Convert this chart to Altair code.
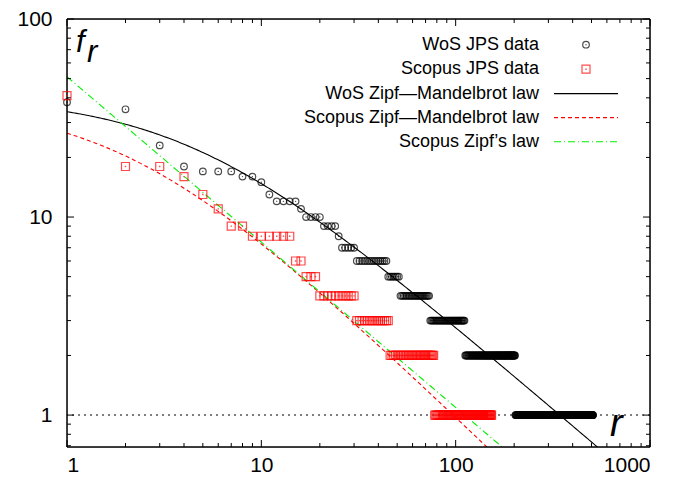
import altair as alt
import numpy as np
import pandas as pd

# ---- data (rank-frequency, run lengths) ----
wos_freq = [38, 35, 23, 18, 17, 16, 15, 13, 12, 11, 10, 9, 8, 7, 6, 5, 4, 3, 2, 1]
wos_count = [1, 1, 1, 1, 3, 2, 1, 1, 4, 1, 4, 4, 1, 5, 14, 7, 22, 38, 91, 307]

scopus_freq = [41, 18, 16, 13, 11, 9, 8, 6, 5, 4, 3, 2, 1]
scopus_count = [1, 2, 1, 1, 1, 2, 6, 2, 3, 11, 15, 32, 76]

# fitted law parameters
wos_zm = {"C": 138.8, "b": 4.3, "a": 0.843}
scopus_zm = {"C": 77.3, "b": 2.1, "a": 0.946}
scopus_zipf = {"C": 51.1, "a": 0.835}

legend_labels = ["WoS JPS data", "Scopus JPS data", "WoS Zipf\u2014Mandelbrot law",
                 "Scopus Zipf\u2014Mandelbrot law", "Scopus Zipf\u2019s law"]

x_major = [1, 10, 100, 1000]
y_major = [1, 10, 100]

# ---- build tables ----
def expand(freq, count):
    f = np.repeat(freq, count)
    r = np.arange(1, len(f) + 1)
    return pd.DataFrame({"r": r, "f": f})

wos = expand(wos_freq, wos_count)
sco = expand(scopus_freq, scopus_count)

rr = np.logspace(0, 3, 300)
curve_wos = pd.DataFrame({"r": rr, "f": wos_zm["C"] / (rr + wos_zm["b"]) ** wos_zm["a"]})
curve_szm = pd.DataFrame({"r": rr, "f": scopus_zm["C"] / (rr + scopus_zm["b"]) ** scopus_zm["a"]})
curve_szipf = pd.DataFrame({"r": rr, "f": scopus_zipf["C"] * rr ** (-scopus_zipf["a"])})

W, H = 583, 428
FONT = "Liberation Sans"
xs = alt.Scale(type="log", domain=[1, 1000], nice=False)
ys = alt.Scale(type="log", domain=[0.69, 100], nice=False)

xaxis = alt.Axis(values=x_major, format="d", ticks=False, domain=False, grid=False,
                 labelFontSize=21, labelPadding=7, labelFont=FONT, labelColor="black", title=None)
yaxis = alt.Axis(values=y_major, format="d", ticks=False, domain=False, grid=False,
                 labelFontSize=21, labelPadding=15, labelFont=FONT, labelColor="black", title=None)
X = alt.X("r:Q", scale=xs, axis=xaxis)
Y = alt.Y("f:Q", scale=ys, axis=yaxis)

def curve(df, color, dash):
    kw = dict(color=color, strokeWidth=1.1, clip=True)
    if dash:
        kw["strokeDash"] = dash
    return alt.Chart(df).mark_line(**kw).encode(x=X, y=Y)

one = alt.Chart(pd.DataFrame({"f": [1]})).mark_rule(
    color="#555555", strokeDash=[2, 4], strokeWidth=1.5).encode(y=Y)

wos_pts = alt.Chart(wos).mark_point(shape="circle", size=44, color="black", strokeWidth=1.2
                                    ).encode(x=X, y=Y)
wos_dot = alt.Chart(wos).mark_point(shape="circle", size=2, filled=True, color="black"
                                    ).encode(x=X, y=Y)
sco_pts = alt.Chart(sco).mark_point(shape="square", size=64, color="red", strokeWidth=1.2
                                    ).encode(x=X, y=Y)
sco_dot = alt.Chart(sco).mark_point(shape="square", size=2, filled=True, color="red"
                                    ).encode(x=X, y=Y)

# ---- legend ----
leg_df = pd.DataFrame({"label": legend_labels})
row_y = [25.7, 50.2, 74.6, 98.6, 122.8]
leg_layers = []
for i, lab in enumerate(legend_labels):
    leg_layers.append(alt.Chart(leg_df.iloc[[i]]).mark_text(
        align="right", baseline="middle", font=FONT, fontSize=18, color="black").encode(
        x=alt.value(472), y=alt.value(row_y[i]), text="label:N"))
leg_layers.append(alt.Chart(leg_df.iloc[[0]]).mark_point(shape="circle", size=44, color="black",
                                                          strokeWidth=1.2).encode(
    x=alt.value(519), y=alt.value(row_y[0])))
leg_layers.append(alt.Chart(leg_df.iloc[[0]]).mark_point(shape="circle", size=2, filled=True, color="black").encode(
    x=alt.value(519), y=alt.value(row_y[0])))
leg_layers.append(alt.Chart(leg_df.iloc[[1]]).mark_point(shape="square", size=64, color="red",
                                                          strokeWidth=1.2).encode(
    x=alt.value(519), y=alt.value(row_y[1])))
leg_layers.append(alt.Chart(leg_df.iloc[[1]]).mark_point(shape="square", size=2, filled=True, color="red").encode(
    x=alt.value(519), y=alt.value(row_y[1])))
for i, (col, dash) in zip([2, 3, 4], [("black", None), ("red", [4, 3]), ("#00ee00", [7, 3, 1, 3])]):
    kw = dict(color=col, strokeWidth=1.1)
    if dash:
        kw["strokeDash"] = dash
    leg_layers.append(alt.Chart(leg_df.iloc[[i]]).mark_rule(**kw).encode(
        x=alt.value(487), x2=alt.value(551), y=alt.value(row_y[i])))

# ---- axis titles ----
titles = [
    alt.Chart(pd.DataFrame({"t": ["f"]})).mark_text(font=FONT, fontSize=31, fontStyle="italic",
                                                    align="left", baseline="alphabetic").encode(
        x=alt.value(9), y=alt.value(33), text="t:N"),
    alt.Chart(pd.DataFrame({"t": ["r"]})).mark_text(font=FONT, fontSize=31, fontStyle="italic",
                                                    align="left", baseline="alphabetic").encode(
        x=alt.value(20), y=alt.value(43), text="t:N"),
    alt.Chart(pd.DataFrame({"t": ["r"]})).mark_text(font=FONT, fontSize=38, fontStyle="italic",
                                                    align="left", baseline="alphabetic").encode(
        x=alt.value(543), y=alt.value(417), text="t:N"),
]

# ---- inward ticks on all four sides + frame ----
x_minor = [m * 10 ** k for k in range(3) for m in range(2, 10)]
y_minor = [0.7, 0.8, 0.9] + [m * 10 ** k for k in range(2) for m in range(2, 10)]
def ticks_x(vals, L):
    d = pd.DataFrame({"r": vals})
    b = alt.Chart(d).mark_rule(color="black", strokeWidth=1)
    return [b.encode(x=X, y=alt.value(H), y2=alt.value(H - L)),
            b.encode(x=X, y=alt.value(0), y2=alt.value(L))]
def ticks_y(vals, L):
    d = pd.DataFrame({"f": vals})
    b = alt.Chart(d).mark_rule(color="black", strokeWidth=1)
    return [b.encode(y=Y, x=alt.value(0), x2=alt.value(L)),
            b.encode(y=Y, x=alt.value(W), x2=alt.value(W - L))]
tick_layers = ticks_x(x_major, 7) + ticks_x(x_minor, 4) + ticks_y(y_major, 7) + ticks_y(y_minor, 4)

fdf = pd.DataFrame({"k": [0]})
frame = [
    alt.Chart(fdf).mark_rule(color="black", strokeWidth=1.5).encode(x=alt.value(0), x2=alt.value(W), y=alt.value(0)),
    alt.Chart(fdf).mark_rule(color="black", strokeWidth=1.5).encode(x=alt.value(0), x2=alt.value(W), y=alt.value(H)),
    alt.Chart(fdf).mark_rule(color="black", strokeWidth=1.5).encode(y=alt.value(0), y2=alt.value(H), x=alt.value(0)),
    alt.Chart(fdf).mark_rule(color="black", strokeWidth=1.5).encode(y=alt.value(0), y2=alt.value(H), x=alt.value(W)),
]

chart = alt.layer(
    one,
    curve(curve_wos, "black", None),
    curve(curve_szm, "red", [4, 3]),
    curve(curve_szipf, "#00ee00", [7, 3, 1, 3]),
    *tick_layers, *frame,
    wos_pts, wos_dot, sco_pts, sco_dot,
    *leg_layers, *titles,
).properties(
    width=W, height=H,
    autosize=alt.AutoSizeParams(type="none"),
    padding={"left": 59, "top": 11, "right": 23, "bottom": 29},
).configure_view(stroke=None).configure(background="white")

chart.save("out.html", embed_options={"renderer": "svg", "actions": False})
